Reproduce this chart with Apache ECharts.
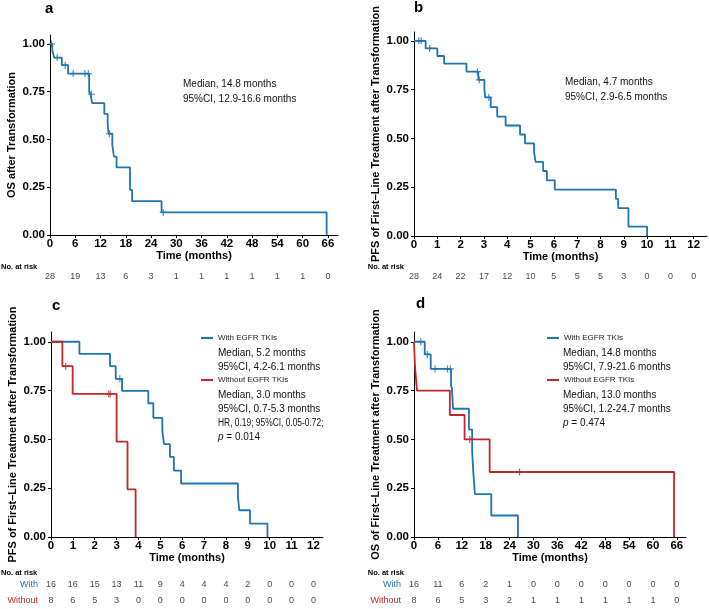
<!DOCTYPE html>
<html>
<head>
<meta charset="utf-8">
<script src="https://cdn.jsdelivr.net/npm/echarts@6/dist/echarts.min.js"></script>
<style>html,body{margin:0;padding:0;background:#fff}#c{width:709px;height:609px}</style>
</head>
<body>
<div id="c"></div>
<script>
// ---------- DATA ----------
const ticksMonths66 = [0, 6, 12, 18, 24, 30, 36, 42, 48, 54, 60, 66];
const ticksMonths12 = [0, 1, 2, 3, 4, 5, 6, 7, 8, 9, 10, 11, 12];
const survTicks = [0, 0.25, 0.5, 0.75, 1.0];

// Panel a: OS after transformation
const aTimes = [0, 0.55, 1.0, 2.8, 4.3, 9.3, 9.6, 10.0, 12.9, 13.7, 13.9, 14.8, 15.2, 15.8, 19.0, 19.5, 26.5, 65.7];
const aSurv  = [1, 0.964, 0.929, 0.889, 0.845, 0.75, 0.738, 0.69, 0.634, 0.585, 0.53, 0.47, 0.41, 0.354, 0.236, 0.177, 0.118, 0];
const aCensor = [0.35, 1.7, 3.6, 5.5, 8.3, 9.1, 9.8, 14.1, 26.9];
const aRisk = [28, 19, 13, 6, 3, 1, 1, 1, 1, 1, 1, 0];

// Panel b: PFS of first-line treatment
const bTimes = [0, 0.5, 1.0, 1.29, 2.25, 2.76, 3.02, 3.05, 3.29, 3.57, 3.93, 4.55, 4.76, 5.15, 5.22, 5.54, 5.7, 6.04, 8.66, 8.76, 9.2, 10.0];
const bSurv  = [1, 0.961, 0.922, 0.883, 0.842, 0.80, 0.755, 0.71, 0.66, 0.612, 0.566, 0.52, 0.474, 0.427, 0.38, 0.333, 0.285, 0.238, 0.19, 0.143, 0.048, 0];
const bCensor = [0.21, 0.31, 0.67, 2.72, 2.8, 3.21];
const bRisk = [28, 24, 22, 17, 12, 10, 5, 5, 5, 3, 0, 0, 0];

// Panel c: PFS by EGFR TKIs
const cWithTimes = [0, 1.3, 2.7, 2.96, 3.25, 4.45, 4.68, 5.09, 5.17, 5.44, 5.62, 5.95, 8.55, 8.61, 9.1, 9.9];
const cWithSurv  = [1, 0.938, 0.875, 0.81, 0.748, 0.685, 0.61, 0.545, 0.476, 0.41, 0.34, 0.274, 0.205, 0.137, 0.068, 0];
const cWithCensor = [3.15];
const cWoTimes = [0, 0.52, 0.99, 3.0, 3.5, 3.87];
const cWoSurv  = [1, 0.875, 0.733, 0.488, 0.244, 0];
const cWoCensor = [0.67, 2.64, 2.71];
const cRiskWith = [16, 16, 15, 13, 11, 9, 4, 4, 4, 2, 0, 0, 0];
const cRiskWo   = [8, 6, 5, 3, 0, 0, 0, 0, 0, 0, 0, 0, 0];

// Panel d: OS by EGFR TKIs
const dWithTimes = [0, 2.7, 4.2, 9.3, 9.5, 9.8, 13.8, 14.6, 14.9, 15.3, 19.4, 26.1];
const dWithSurv  = [1, 0.935, 0.861, 0.776, 0.764, 0.657, 0.55, 0.44, 0.33, 0.22, 0.11, 0];
const dWithCensor = [1.7, 3.35, 5.3, 8.4, 9.1];
const dWoTimes = [0, 0.25, 0.75, 9.0, 12.7, 19.0, 65.3];
const dWoSurv  = [1, 0.875, 0.75, 0.625, 0.5, 0.333, 0];
const dWoCensor = [14.0, 26.5];
const dRiskWith = [16, 11, 6, 2, 1, 0, 0, 0, 0, 0, 0, 0];
const dRiskWo   = [8, 6, 5, 3, 2, 1, 1, 1, 1, 1, 1, 0];

// ---------- STYLE ----------
const FONT = 'Liberation Sans, Arial, Helvetica, sans-serif';
const BLUE = '#1f74b1';
const RED = '#c0272d';
const PLUS = 'path://M5,0L5,10M0,5L10,5';

function steps(times, surv) { return times.map((t, i) => [t, surv[i]]); }
function survAt(times, surv, t) {
  let s = surv[0];
  for (let i = 0; i < times.length; i++) { if (times[i] <= t) s = surv[i]; }
  return s;
}

const panels = [
  { left: 50, top: 35, width: 288, height: 200, xmax: 68.4, ymax: 1.047, ticks: ticksMonths66,
    yname: 'OS after Transformation', riskTop: 271, riskH: 12 },
  { left: 414, top: 32, width: 293, height: 204, xmax: 12.57, ymax: 1.045, ticks: ticksMonths12,
    yname: 'PFS of First\u2013Line Treatment after Transformation', riskTop: 271, riskH: 12 },
  { left: 51, top: 332, width: 272, height: 205, xmax: 12.44, ymax: 1.05, ticks: ticksMonths12,
    yname: 'PFS of First\u2013Line Treatment after Transformation', riskTop: 577, riskH: 36 },
  { left: 414, top: 332, width: 272, height: 205, xmax: 68.3, ymax: 1.05, ticks: ticksMonths66,
    yname: 'OS of First\u2013Line Treatment after Transformation', riskTop: 577, riskH: 36 }
];

const grid = [], xAxis = [], yAxis = [], series = [];

panels.forEach((p, i) => {
  grid.push({ left: p.left, top: p.top, width: p.width, height: p.height });
  xAxis.push({
    gridIndex: i, type: 'value', min: 0, max: p.xmax,
    axisLine: { show: true, onZero: false, lineStyle: { color: '#000', width: 1 } },
    axisTick: { show: true, customValues: p.ticks, length: 3, lineStyle: { color: '#000', width: 1 } },
    axisLabel: { customValues: p.ticks, margin: 3, fontSize: 11.5, fontWeight: 'bold', color: '#000', fontFamily: FONT },
    splitLine: { show: false },
    name: 'Time (months)', nameLocation: 'middle', nameGap: 15,
    nameTextStyle: { fontSize: 11, fontWeight: 'bold', color: '#000', fontFamily: FONT }
  });
  yAxis.push({
    gridIndex: i, type: 'value', min: 0, max: p.ymax,
    axisLine: { show: true, lineStyle: { color: '#000', width: 1 } },
    axisTick: { show: true, customValues: survTicks, length: 3, lineStyle: { color: '#000', width: 1 } },
    axisLabel: { customValues: survTicks, margin: 5, fontSize: 11.5, fontWeight: 'bold', color: '#000', fontFamily: FONT,
      formatter: v => Number(v).toFixed(2) },
    splitLine: { show: false },
    name: p.yname, nameLocation: 'middle', nameRotate: 90, nameGap: 33,
    nameTextStyle: { fontSize: 11, fontWeight: 'bold', color: '#000', fontFamily: FONT }
  });
});

// risk table grids (indices 4..7)
panels.forEach((p, i) => {
  const two = i >= 2;
  grid.push({ left: p.left, top: p.riskTop, width: p.width, height: p.riskH });
  xAxis.push({ gridIndex: 4 + i, type: 'value', min: 0, max: p.xmax, show: false });
  yAxis.push({
    gridIndex: 4 + i, type: 'category', data: two ? ['Without', 'With'] : [''],
    show: two,
    axisLine: { show: false }, axisTick: { show: false }, splitLine: { show: false },
    axisLabel: {
      margin: 13, fontSize: 9, fontFamily: FONT,
      formatter: v => '{' + v + '|' + v + '}',
      rich: { With: { color: BLUE, fontSize: 9, fontFamily: FONT }, Without: { color: RED, fontSize: 9, fontFamily: FONT } }
    }
  });
});

function kmLine(idx, name, times, surv, color) {
  series.push({
    type: 'line', name: name, xAxisIndex: idx, yAxisIndex: idx, step: 'end',
    data: steps(times, surv), symbol: 'none', showSymbol: false,
    lineStyle: { color: color, width: 1.8 }, itemStyle: { color: color },
    silent: true, animation: false, z: 3
  });
}
function censor(idx, times, surv, cens, color) {
  series.push({
    type: 'scatter', xAxisIndex: idx, yAxisIndex: idx,
    data: cens.map(t => [t, survAt(times, surv, t)]),
    symbol: PLUS, symbolSize: 7,
    itemStyle: { color: 'transparent', borderColor: color, borderWidth: 1.2 },
    silent: true, animation: false, z: 4
  });
}
function riskRow(idx, ticks, counts, row) {
  series.push({
    type: 'scatter', xAxisIndex: idx, yAxisIndex: idx,
    data: ticks.map((t, k) => [t, row, counts[k]]),
    symbolSize: 0.1, itemStyle: { color: 'transparent' },
    label: { show: true, position: 'inside', formatter: p => String(p.value[2]),
      fontSize: 9, color: '#111', fontFamily: FONT },
    silent: true, animation: false
  });
}

kmLine(0, 'OS', aTimes, aSurv, BLUE);
censor(0, aTimes, aSurv, aCensor, BLUE);
kmLine(1, 'PFS', bTimes, bSurv, BLUE);
censor(1, bTimes, bSurv, bCensor, BLUE);
kmLine(2, 'With EGFR TKIs', cWithTimes, cWithSurv, BLUE);
censor(2, cWithTimes, cWithSurv, cWithCensor, BLUE);
kmLine(2, 'Without EGFR TKIs', cWoTimes, cWoSurv, RED);
censor(2, cWoTimes, cWoSurv, cWoCensor, RED);
kmLine(3, 'With EGFR TKIs', dWithTimes, dWithSurv, BLUE);
censor(3, dWithTimes, dWithSurv, dWithCensor, BLUE);
kmLine(3, 'Without EGFR TKIs', dWoTimes, dWoSurv, RED);
censor(3, dWoTimes, dWoSurv, dWoCensor, RED);

riskRow(4, ticksMonths66, aRisk, 0);
riskRow(5, ticksMonths12, bRisk, 0);
riskRow(6, ticksMonths12, cRiskWith, 1);
riskRow(6, ticksMonths12, cRiskWo, 0);
riskRow(7, ticksMonths66, dRiskWith, 1);
riskRow(7, ticksMonths66, dRiskWo, 0);

function legendAt(name, left, top) {
  return {
    data: [name], left: left, top: top, icon: 'rect', itemWidth: 12, itemHeight: 2,
    padding: 0, selectedMode: false,
    textStyle: { fontSize: 8, color: '#222', fontFamily: FONT, padding: [0, 0, 0, 0] }
  };
}
const legend = [
  legendAt('With EGFR TKIs', 201, 334),
  legendAt('Without EGFR TKIs', 201, 376),
  legendAt('With EGFR TKIs', 547, 334),
  legendAt('Without EGFR TKIs', 547, 376)
];

function txt(x, y, text, opts, extra) {
  opts = opts || {};
  return Object.assign({
    type: 'text', x: x, y: y, silent: true,
    style: Object.assign({
      text: text, fontSize: 10, fontFamily: FONT, fill: '#111',
      verticalAlign: 'middle', align: 'left'
    }, opts)
  }, extra || {});
}
const italicRich = { i: { fontStyle: 'italic', fontSize: 10, fontFamily: FONT, fill: '#111' } };
const graphic = [
  txt(45, 9, 'a', { fontSize: 15, fontWeight: 'bold', fill: '#000' }),
  txt(414, 8, 'b', { fontSize: 15, fontWeight: 'bold', fill: '#000' }),
  txt(52, 306, 'c', { fontSize: 15, fontWeight: 'bold', fill: '#000' }),
  txt(416, 304, 'd', { fontSize: 15, fontWeight: 'bold', fill: '#000' }),

  txt(183, 84, 'Median, 14.8 months'),
  txt(183, 99, '95%CI, 12.9-16.6 months'),
  txt(565, 82, 'Median, 4.7 months'),
  txt(565, 97, '95%CI, 2.9-6.5 months'),

  txt(218, 353, 'Median, 5.2 months'),
  txt(218, 367, '95%CI, 4.2-6.1 months'),
  txt(218, 395, 'Median, 3.0 months'),
  txt(218, 409, '95%CI, 0.7-5.3 months'),
  txt(218, 423, 'HR, 0.19; 95%CI, 0.05-0.72;', {}, { scaleX: 0.84 }),
  txt(218, 437, '{i|p} = 0.014', { rich: italicRich }),

  txt(563, 353, 'Median, 14.8 months'),
  txt(563, 367, '95%CI, 7.9-21.6 months'),
  txt(563, 395, 'Median, 13.0 months'),
  txt(563, 409, '95%CI, 1.2-24.7 months'),
  txt(563, 423, '{i|p} = 0.474', { rich: italicRich }),

  txt(1, 266.5, 'No. at risk', { fontSize: 7.5, fontWeight: 'bold', fill: '#000' }),
  txt(404, 267, 'No. at risk', { fontSize: 7.5, fontWeight: 'bold', fill: '#000', align: 'right' }),
  txt(1, 573, 'No. at risk', { fontSize: 7.5, fontWeight: 'bold', fill: '#000' }),
  txt(404, 573, 'No. at risk', { fontSize: 7.5, fontWeight: 'bold', fill: '#000', align: 'right' })
];

const chart = echarts.init(document.getElementById('c'), null, { renderer: 'canvas' });
chart.setOption({
  backgroundColor: '#fff',
  animation: false,
  textStyle: { fontFamily: FONT },
  grid: grid, xAxis: xAxis, yAxis: yAxis, series: series,
  legend: legend, graphic: graphic
});
</script>
</body>
</html>
